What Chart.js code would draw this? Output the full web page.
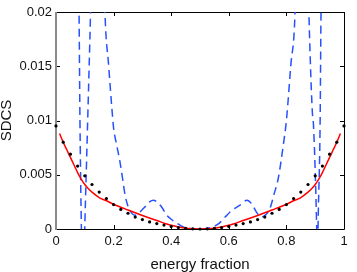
<!DOCTYPE html>
<html>
<head>
<meta charset="utf-8">
<script src="https://cdn.jsdelivr.net/npm/chart.js@4/dist/chart.umd.min.js"></script>
<style>
  html, body { margin: 0; padding: 0; background: #fff; }
  #wrap { width: 357px; height: 272px; }
</style>
</head>
<body>
<div id="wrap"><canvas id="chart" width="357" height="272"></canvas></div>
<script>
// Tick labels
const xTickLabels = ['0', '0.2', '0.4', '0.6', '0.8', '1'];
const yTickLabels = ['0', '0.005', '0.01', '0.015', '0.02'];

// Black dots (reference data)
const dotX = [0, 0.025, 0.05, 0.075, 0.1, 0.125, 0.15, 0.175, 0.2, 0.225, 0.25, 0.275, 0.3, 0.325, 0.35, 0.375, 0.4, 0.425, 0.45, 0.475, 0.5,
              0.525, 0.55, 0.575, 0.6, 0.625, 0.65, 0.675, 0.7, 0.725, 0.75, 0.775, 0.8, 0.825, 0.85, 0.875, 0.9, 0.925, 0.95, 0.975, 1];
const dotY = [0.0095, 0.0080, 0.0069, 0.0058, 0.0049, 0.0041, 0.0034, 0.0028, 0.00225, 0.0018, 0.00145, 0.0011, 0.00087, 0.00065, 0.0005, 0.00036, 0.00022, 0.00013, 0.00006, 0.00002, 0,
              0.00002, 0.00006, 0.00013, 0.00022, 0.00036, 0.0005, 0.00065, 0.00087, 0.0011, 0.00145, 0.0018, 0.00225, 0.0028, 0.0034, 0.0041, 0.0049, 0.0058, 0.0069, 0.0080, 0.0095];

// Red solid curve
const redX = [0.0125, 0.025, 0.0375, 0.05, 0.0625, 0.075, 0.0875, 0.1, 0.1125, 0.125, 0.15, 0.175, 0.2, 0.25, 0.3, 0.35, 0.4, 0.45, 0.5,
              0.55, 0.6, 0.65, 0.7, 0.75, 0.8, 0.825, 0.85, 0.875, 0.8875, 0.9, 0.9125, 0.925, 0.9375, 0.95, 0.9625, 0.975, 0.9875];
const redY = [0.0088, 0.0080, 0.0073, 0.0066, 0.0059, 0.0052, 0.0046, 0.0041, 0.0037, 0.0034, 0.0029, 0.0026, 0.00228, 0.00175, 0.00125, 0.00078, 0.00034, 0.00007, 0,
              0.00007, 0.00034, 0.00078, 0.00125, 0.00175, 0.00228, 0.0026, 0.0029, 0.0034, 0.0037, 0.0041, 0.0046, 0.0052, 0.0059, 0.0066, 0.0073, 0.0080, 0.0088];

// Blue dashed curve (goes off the plotted range near the ends)
const blueX = [0, 0.04, 0.065, 0.08, 0.083, 0.087, 0.094, 0.1, 0.11, 0.12, 0.13, 0.145, 0.16, 0.17, 0.183, 0.195, 0.2, 0.211, 0.222, 0.232, 0.24, 0.25,
               0.257, 0.265, 0.274, 0.285, 0.3, 0.315, 0.325, 0.338, 0.35, 0.365, 0.385, 0.4, 0.419, 0.442, 0.46, 0.5,
               0.54, 0.565, 0.587, 0.61, 0.639, 0.663, 0.68, 0.695, 0.714, 0.728, 0.743, 0.757, 0.772, 0.789, 0.8, 0.815, 0.83,
               0.84, 0.855, 0.868, 0.878, 0.89, 0.894, 0.905, 0.908, 0.91, 0.917, 0.92, 0.935, 0.96, 1];
const blueY = [0.3, 0.09, 0.04, 0.02, 0.0105, 0.002, -0.006, 0.0003, 0.01, 0.02, 0.032, 0.04, 0.032, 0.02, 0.015, 0.0108, 0.0093, 0.0077, 0.0062, 0.0045, 0.0031, 0.0021,
               0.0017, 0.0014, 0.00127, 0.0014, 0.0018, 0.0022, 0.0025, 0.00265, 0.0025, 0.0021, 0.00127, 0.0009, 0.00055, 0.00018, 0.00005, 0,
               0.00015, 0.0005, 0.0011, 0.0017, 0.0022, 0.00265, 0.0023, 0.0016, 0.0011, 0.0013, 0.0019, 0.0032, 0.0047, 0.0077, 0.0100, 0.015, 0.02,
               0.032, 0.04, 0.032, 0.02, 0.0108, 0.0096, 0.0003, -0.004, 0.0003, 0.0096, 0.0195, 0.05, 0.1, 0.3];

const toPoints = (xs, ys) => xs.map((x, i) => ({x: x, y: ys[i]}));

// Inside ticks on all four sides plus the axes box
const boxPlugin = {
  id: 'box',
  beforeDatasetsDraw(chart) {
    const {ctx, chartArea: a, scales} = chart;
    ctx.save();
    ctx.strokeStyle = '#000';
    ctx.lineWidth = 1;
    ctx.beginPath();
    scales.x.ticks.forEach((t) => {
      const px = Math.round(scales.x.getPixelForValue(t.value)) + 0.5;
      ctx.moveTo(px, a.bottom); ctx.lineTo(px, a.bottom - 4);
      ctx.moveTo(px, a.top); ctx.lineTo(px, a.top + 4);
    });
    scales.y.ticks.forEach((t) => {
      const py = Math.round(scales.y.getPixelForValue(t.value)) + 0.5;
      ctx.moveTo(a.left, py); ctx.lineTo(a.left + 4, py);
      ctx.moveTo(a.right, py); ctx.lineTo(a.right - 4, py);
    });
    ctx.stroke();
    // top, right, bottom
    ctx.beginPath();
    ctx.moveTo(a.left, a.top + 0.5); ctx.lineTo(a.right + 0.5, a.top + 0.5);
    ctx.lineTo(a.right + 0.5, a.bottom + 0.5); ctx.lineTo(a.left, a.bottom + 0.5);
    ctx.stroke();
    // left axis (lighter)
    ctx.strokeStyle = '#8a8a8a';
    ctx.lineWidth = 2;
    ctx.beginPath();
    ctx.moveTo(a.left, a.top); ctx.lineTo(a.left, a.bottom + 1);
    ctx.stroke();
    ctx.restore();
  }
};

const fontFamily = '"Liberation Sans", Arial, Helvetica, sans-serif';

new Chart(document.getElementById('chart'), {
  type: 'scatter',
  data: {
    datasets: [
      {
        data: toPoints(dotX, dotY),
        backgroundColor: '#000',
        borderColor: '#000',
        pointRadius: 1.6,
        borderWidth: 0,
        showLine: false,
        clip: false,
        order: 0
      },
      {
        data: toPoints(redX, redY),
        borderColor: 'rgb(255,0,0)',
        borderWidth: 1.5,
        pointRadius: 0,
        showLine: true,
        cubicInterpolationMode: 'monotone',
        order: 1
      },
      {
        data: toPoints(blueX, blueY),
        borderColor: 'rgb(40,80,255)',
        borderWidth: 1.5,
        borderDash: [8, 5],
        pointRadius: 0,
        showLine: true,
        cubicInterpolationMode: 'monotone',
        order: 2
      }
    ]
  },
  options: {
    responsive: false,
    animation: false,
    events: [],
    layout: { padding: { left: 0, top: 12, right: 13, bottom: 0 } },
    plugins: { legend: { display: false }, tooltip: { enabled: false } },
    scales: {
      x: {
        type: 'linear',
        min: 0,
        max: 1,
        afterFit: (scale) => { scale.height = 43; },
        grid: { display: false, drawTicks: false },
        border: { display: false },
        ticks: {
          stepSize: 0.2,
          padding: 5,
          color: '#111',
          font: { family: fontFamily, size: 13 },
          maxRotation: 0,
          callback: (v, i) => xTickLabels[i]
        },
        title: {
          display: true,
          text: 'energy fraction',
          color: '#111',
          font: { family: fontFamily, size: 15, lineHeight: 1 },
          padding: { top: 3, bottom: 0 }
        }
      },
      y: {
        type: 'linear',
        min: 0,
        max: 0.02,
        afterFit: (scale) => { scale.width = 56; },
        grid: { display: false, drawTicks: false },
        border: { display: false },
        ticks: {
          stepSize: 0.005,
          padding: 4,
          color: '#111',
          font: { family: fontFamily, size: 13 },
          callback: (v, i) => yTickLabels[i]
        },
        title: {
          display: true,
          text: 'SDCS',
          color: '#111',
          font: { family: fontFamily, size: 15, lineHeight: 1 },
          padding: { top: -1, bottom: 0 }
        }
      }
    }
  },
  plugins: [boxPlugin]
});
</script>
</body>
</html>
